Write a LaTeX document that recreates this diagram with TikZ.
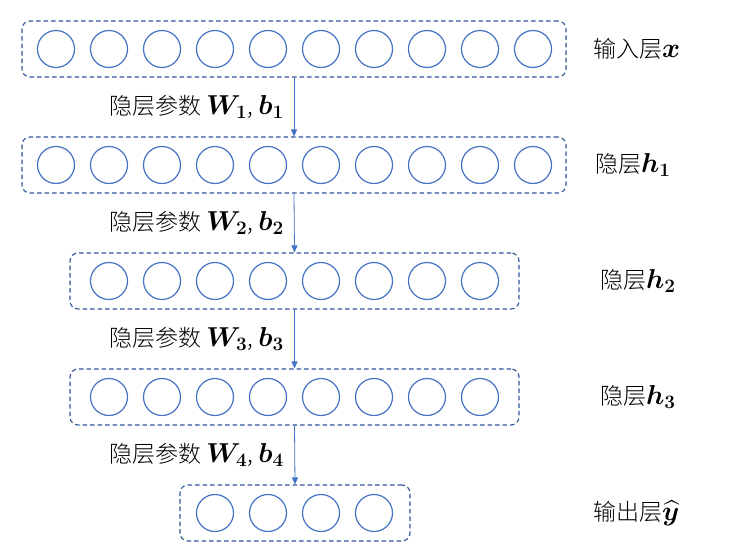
\documentclass[tikz,border=0pt]{standalone}
\usepackage{amsmath}
\usepackage{bm}
\usepackage{fontspec}
\setmainfont{Noto Sans CJK SC}[UprightFont=* Light]
\usetikzlibrary{arrows.meta}
\definecolor{cblue}{HTML}{4472C4}
\definecolor{dblue}{HTML}{2F5597}
\tikzset{
  neuron/.style={circle,draw=cblue,line width=1.2pt,minimum size=37pt,inner sep=0pt},
  layerbox/.style={draw=dblue,line width=1.1pt,dash pattern=on 4.5pt off 3pt,rounded corners=8pt,minimum height=56pt,inner sep=0pt},
  conn/.style={draw=cblue,line width=0.8pt,-{Triangle[length=7pt,width=6pt]}},
  lbl/.style={font=\fontsize{23pt}{27pt}\selectfont,inner sep=0pt}
}
\newcommand{\bmath}[1]{\scalebox{1.1}{$\bm{#1}$}}
\begin{document}
\begin{tikzpicture}[x=1pt,y=-1pt]
\useasboundingbox (0,0) rectangle (741,554);
% boxes
\node[layerbox,minimum width=544pt] (L1) at (294,49) {};
\node[layerbox,minimum width=544pt] (L2) at (294,165) {};
\node[layerbox,minimum width=449pt] (L3) at (294.5,281) {};
\node[layerbox,minimum width=449pt] (L4) at (294.5,397) {};
\node[layerbox,minimum width=230pt] (L5) at (295,513) {};
% neurons
\foreach \i in {0,...,9} {
  \node[neuron] (a\i) at (56+53*\i,49) {};
  \node[neuron] (b\i) at (56+53*\i,165) {};
}
\foreach \i in {0,...,7} {
  \node[neuron] (c\i) at (109+53*\i,281) {};
  \node[neuron] (d\i) at (109+53*\i,397) {};
}
\foreach \i in {0,...,3} {
  \node[neuron] (e\i) at (215+53*\i,513) {};
}
% connectors
\draw[conn] (L1.south) -- (L2.north);
\draw[conn] (L2.south) -- (L3.north);
\draw[conn] (L3.south) -- (L4.north);
\draw[conn] (L4.south) -- (L5.north);
% connector labels
\node[lbl,anchor=east] (p1) at (284,107) {隐层参数 \bmath{W_1}, \bmath{b_1}};
\node[lbl,anchor=east] (p2) at (284,223) {隐层参数 \bmath{W_2}, \bmath{b_2}};
\node[lbl,anchor=east] (p3) at (284,339) {隐层参数 \bmath{W_3}, \bmath{b_3}};
\node[lbl,anchor=east] (p4) at (284,455) {隐层参数 \bmath{W_4}, \bmath{b_4}};
% layer labels
\node[lbl,anchor=west] (t1) at (593,49) {输入层\bmath{x}};
\node[lbl,anchor=west] (t2) at (595,165) {隐层\bmath{h_1}};
\node[lbl,anchor=west] (t3) at (600,281) {隐层\bmath{h_2}};
\node[lbl,anchor=west] (t4) at (600,397) {隐层\bmath{h_3}};
\node[lbl,anchor=west] (t5) at (593,513) {输出层\bmath{\widehat{y}}};
\end{tikzpicture}
\end{document}
